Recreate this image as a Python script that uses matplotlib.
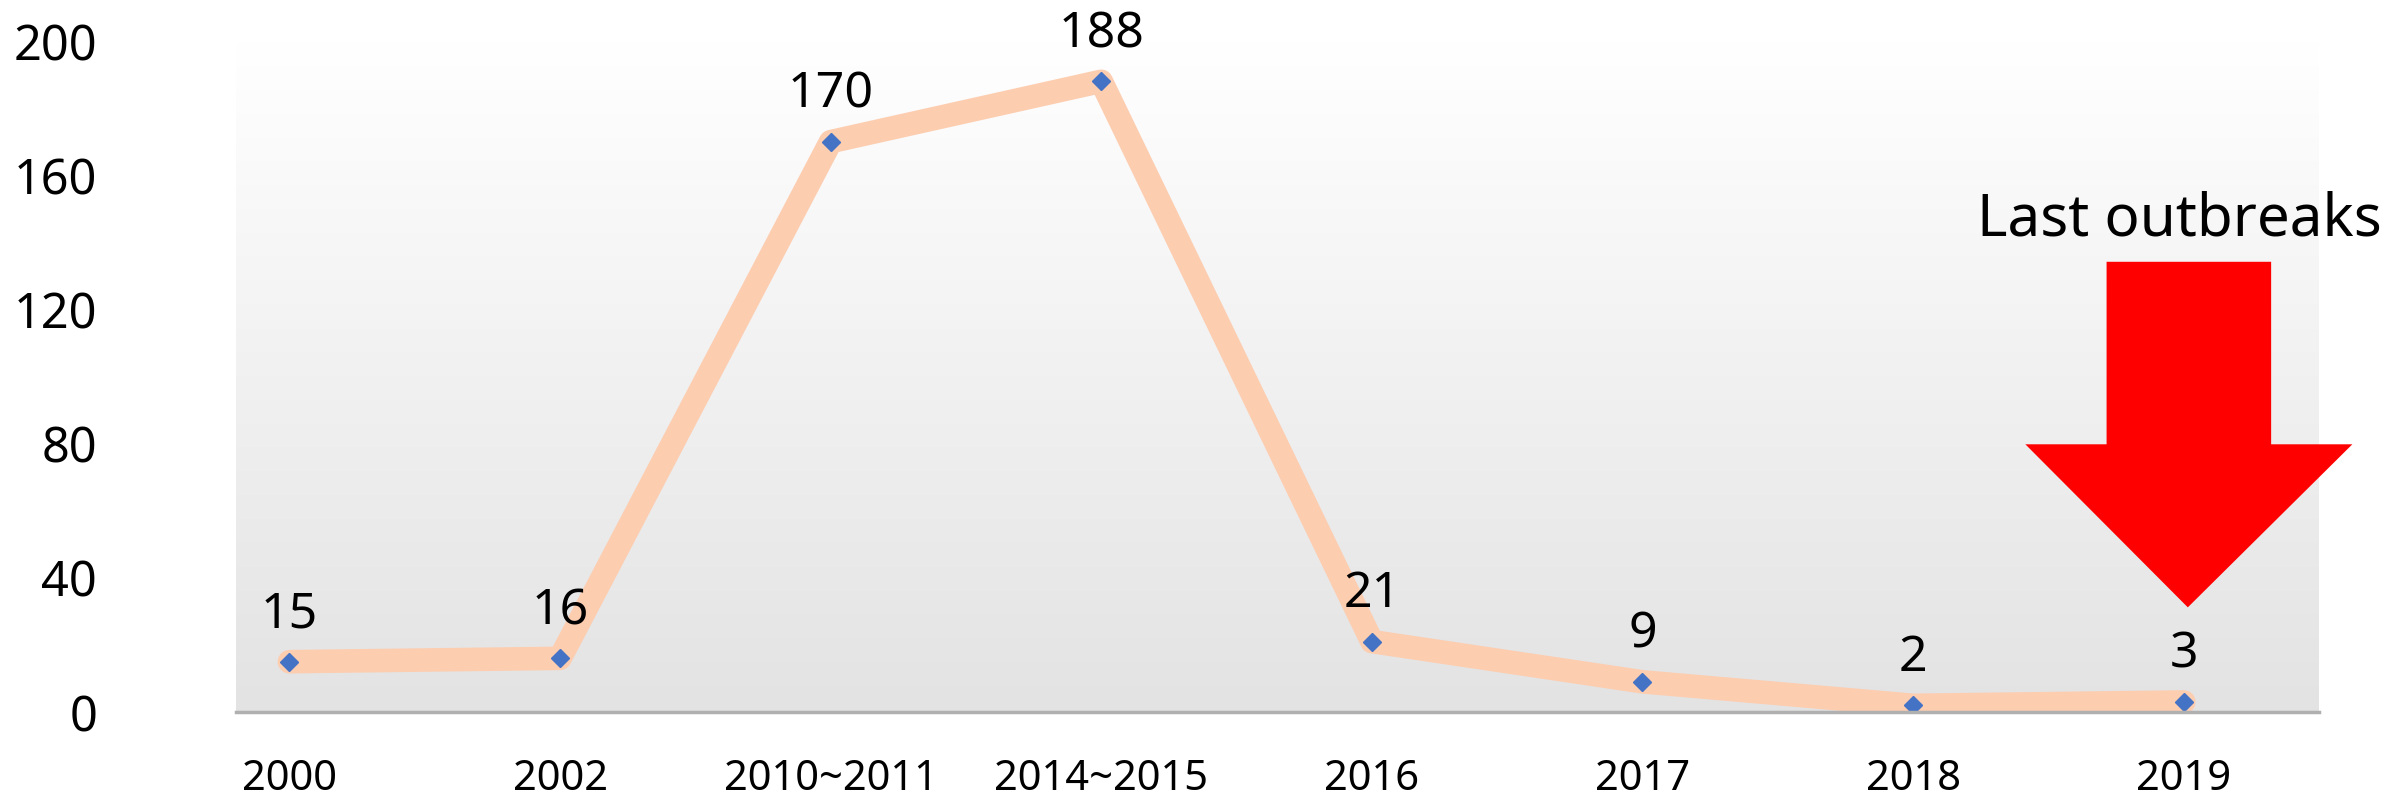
import numpy as np
import matplotlib
matplotlib.use("Agg")
import matplotlib.pyplot as plt
from matplotlib.patches import Polygon

plt.rcParams["font.family"] = ["Noto Sans", "DejaVu Sans"]

categories = ["2000", "2002", "2010~2011", "2014~2015", "2016", "2017", "2018", "2019"]
outbreaks = [15, 16, 170, 188, 21, 9, 2, 3]
y_ticks = [0, 40, 80, 120, 160, 200]

fig = plt.figure(figsize=(23.92, 8.06), dpi=100)
ax = fig.add_axes([0.0987, 0.1166, 0.8708, 0.8325])

# light grey gradient background (white at top)
grad = np.linspace(1.0, 0.0, 256).reshape(-1, 1)
top_c = np.array([1.0, 1.0, 1.0])
bot_c = np.array([0.89, 0.89, 0.89])
img = bot_c + (top_c - bot_c) * grad[..., None]
img = img.reshape(256, 1, 3)
ax.imshow(img, extent=[0, 1, 0, 1], transform=ax.transAxes, aspect="auto", zorder=0)

x = np.arange(len(categories))
ax.plot(x, outbreaks, color="#FDCDB0", lw=17, solid_capstyle="round",
        solid_joinstyle="round", zorder=2)
ax.plot(x, outbreaks, ls="none", marker="D", ms=9, color="#4472C4", zorder=3)

for xi, v in zip(x, outbreaks):
    ax.annotate(str(v), (xi, v), xytext=(0, 16), textcoords="offset points",
                ha="center", va="bottom", fontsize=36, color="black", zorder=4)

ax.set_xlim(-0.197, 7.5)
ax.set_ylim(0, 200)
ax.set_xticks(x)
ax.set_xticklabels(categories, fontsize=30)
ax.tick_params(axis="x", length=0, pad=33)
ax.set_yticks(y_ticks)
ax.set_yticklabels([str(t) for t in y_ticks], fontsize=35)
ax.tick_params(axis="y", length=0, pad=100)

for s in ["top", "right", "left"]:
    ax.spines[s].set_visible(False)
ax.spines["bottom"].set_color("#b0b0b0")
ax.spines["bottom"].set_linewidth(2.5)
ax.spines["bottom"].set_zorder(5)

# "Last outbreaks" arrow annotation
arrow = Polygon([(0.898, 0.671), (0.977, 0.671), (0.977, 0.399), (1.016, 0.399),
                 (0.937, 0.156), (0.859, 0.399), (0.898, 0.399)],
                closed=True, facecolor="#FF0000", edgecolor="none",
                transform=ax.transAxes, clip_on=False, zorder=6)
ax.add_patch(arrow)
ax.text(0.933, 0.71, "Last outbreaks", transform=ax.transAxes, ha="center",
        va="baseline", fontsize=42, color="black", zorder=6)

fig.savefig("out.png", dpi=100)
